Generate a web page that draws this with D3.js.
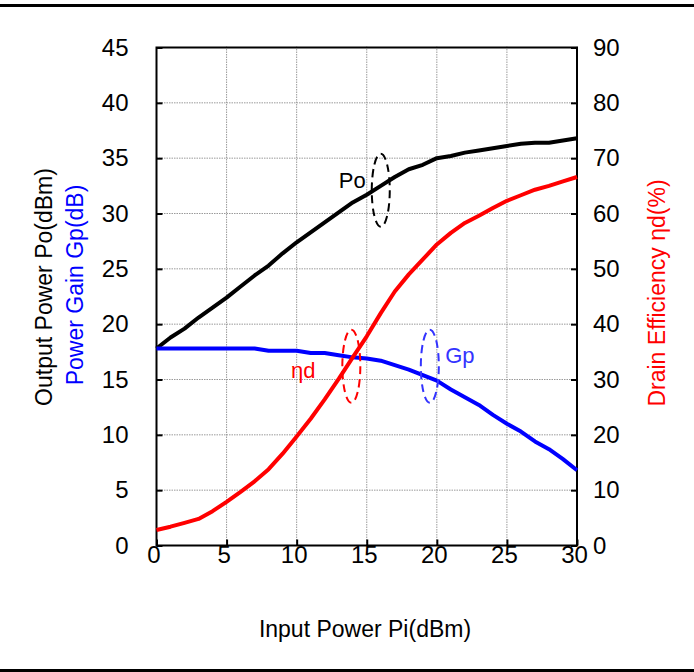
<!DOCTYPE html>
<html><head><meta charset="utf-8">
<script src="https://cdn.jsdelivr.net/npm/d3@7"></script>
<style>
body{margin:0;background:#fff;}
svg{display:block;font-family:"Liberation Sans",Arial,sans-serif;}
</style></head>
<body><svg id="c" width="694" height="672"></svg>
<script>
// ---- data ----
const inputPower = [0,1,2,3,4,5,6,7,8,9,10,11,12,13,14,15,16,17,18,19,20,21,22,23,24,25,26,27,28,29,30];
const outputPower = [17.8,18.8,19.6,20.6,21.5,22.4,23.4,24.4,25.3,26.4,27.4,28.3,29.2,30.1,31.0,31.7,32.5,33.3,34.0,34.4,35.0,35.2,35.5,35.7,35.9,36.1,36.3,36.4,36.4,36.6,36.8];
const powerGain = [17.8,17.8,17.8,17.8,17.8,17.8,17.8,17.8,17.6,17.6,17.6,17.4,17.4,17.2,17.0,16.9,16.7,16.3,15.9,15.4,14.9,14.1,13.4,12.7,11.8,11.0,10.3,9.4,8.7,7.8,6.8];
const drainEff = [2.8,3.4,4.1,4.8,6.2,7.9,9.7,11.6,13.8,16.6,19.7,22.9,26.4,30.1,34.0,37.8,42.0,45.9,49.0,51.7,54.4,56.5,58.3,59.6,61.0,62.3,63.3,64.3,65.0,65.8,66.6];
const xTicks = [0,5,10,15,20,25,30];
const leftTicks = [0,5,10,15,20,25,30,35,40,45];
const rightTicks = [0,10,20,30,40,50,60,70,80,90];
// annotations
const annLabels = ["Po","ηd","Gp"];
const annLabelX = [13.0,9.6,20.6];
const annLabelY = [32.3,15.1,16.5];
const annEllX = [16.0,13.9,19.5];
const annEllY = [32.1,16.2,16.2];
const annColors = ["#000000","#ff0000","#3333ff"];

// ---- layout ----
const svg = d3.select("#c");
const L = 156.5, R = 577, T = 47.5, B = 545.5;
const x = d3.scaleLinear().domain([0,30]).range([L,R]);
const yL = d3.scaleLinear().domain([0,45]).range([B,T]);
const yR = d3.scaleLinear().domain([0,90]).range([B,T]);
const FS = 24, TS = 23;

svg.append("rect").attr("width",694).attr("height",672).attr("fill","#fff");
svg.append("line").attr("x1",0).attr("x2",694).attr("y1",5.5).attr("y2",5.5).attr("stroke","#000").attr("stroke-width",3);
svg.append("line").attr("x1",0).attr("x2",694).attr("y1",670.5).attr("y2",670.5).attr("stroke","#000").attr("stroke-width",3);

// grid
const g = svg.append("g");
g.selectAll(".gx").data(xTicks.slice(1)).join("line")
  .attr("x1",d=>x(d)).attr("x2",d=>x(d)).attr("y1",T-1).attr("y2",B)
  .attr("stroke","#9a9a9a").attr("stroke-width",1).attr("stroke-dasharray","1.5,1");
g.selectAll(".gy").data(leftTicks.slice(1)).join("line")
  .attr("x1",L).attr("x2",R+1).attr("y1",d=>yL(d)).attr("y2",d=>yL(d))
  .attr("stroke","#9a9a9a").attr("stroke-width",1).attr("stroke-dasharray","1.5,1");

// axes
function styleAxis(sel){
  sel.select(".domain").remove();
  sel.selectAll(".tick line").attr("stroke","#000").attr("stroke-width",2);
  sel.selectAll("text").attr("font-size",FS).attr("fill","#000")
    .attr("font-family","'Liberation Sans',Arial,sans-serif");
}
svg.append("g").attr("transform",`translate(${L},0)`)
  .call(d3.axisLeft(yL).tickValues(leftTicks).tickSizeInner(-6).tickSizeOuter(0).tickPadding(28))
  .call(styleAxis);
svg.append("g").attr("transform",`translate(${R},0)`)
  .call(d3.axisRight(yR).tickValues(rightTicks).tickSizeInner(-6).tickSizeOuter(0).tickPadding(16))
  .call(styleAxis);
const xa = svg.append("g").attr("transform",`translate(0,${B})`)
  .call(d3.axisBottom(x).tickValues(xTicks).tickSizeInner(-6).tickSizeOuter(0).tickPadding(0))
  .call(styleAxis);
xa.selectAll(".tick text").attr("dx",-3);

// frame
svg.append("rect").attr("x",L).attr("y",T).attr("width",R-L).attr("height",B-T)
  .attr("fill","none").attr("stroke","#000").attr("stroke-width",2);

// series
const pts = (arr, ys) => inputPower.map((v,i)=>[x(v), ys(arr[i])]);
const line = d3.line();
svg.append("path").attr("d",line(pts(outputPower,yL))).attr("fill","none").attr("stroke","#000").attr("stroke-width",4).attr("stroke-linejoin","round");
svg.append("path").attr("d",line(pts(powerGain,yL))).attr("fill","none").attr("stroke","#0000ff").attr("stroke-width",4).attr("stroke-linejoin","round");
svg.append("path").attr("d",line(pts(drainEff,yR))).attr("fill","none").attr("stroke","#ff0000").attr("stroke-width",4).attr("stroke-linejoin","round");

// annotations
annLabels.forEach((lab,i)=>{
  svg.append("ellipse").attr("cx",x(annEllX[i])).attr("cy",yL(annEllY[i]))
    .attr("rx",9).attr("ry",36.5).attr("fill","none").attr("stroke",annColors[i])
    .attr("stroke-width",2).attr("stroke-dasharray","8,5");
  svg.append("text").attr("x",x(annLabelX[i])).attr("y",yL(annLabelY[i]))
    .attr("font-size",22).attr("fill",annColors[i]).text(lab);
});

// titles
svg.append("text").attr("x",365).attr("y",637).attr("text-anchor","middle").attr("font-size",TS).text("Input Power Pi(dBm)");
svg.append("text").attr("transform","translate(52,287) rotate(-90)").attr("text-anchor","middle").attr("font-size",TS).attr("fill","#000").text("Output Power Po(dBm)");
svg.append("text").attr("transform","translate(83,285) rotate(-90)").attr("text-anchor","middle").attr("font-size",TS).attr("fill","#0000ff").text("Power Gain Gp(dB)");
svg.append("text").attr("transform","translate(665,293) rotate(-90)").attr("text-anchor","middle").attr("font-size",TS).attr("fill","#ff0000").text("Drain Efficiency ηd(%)");
</script></body></html>
